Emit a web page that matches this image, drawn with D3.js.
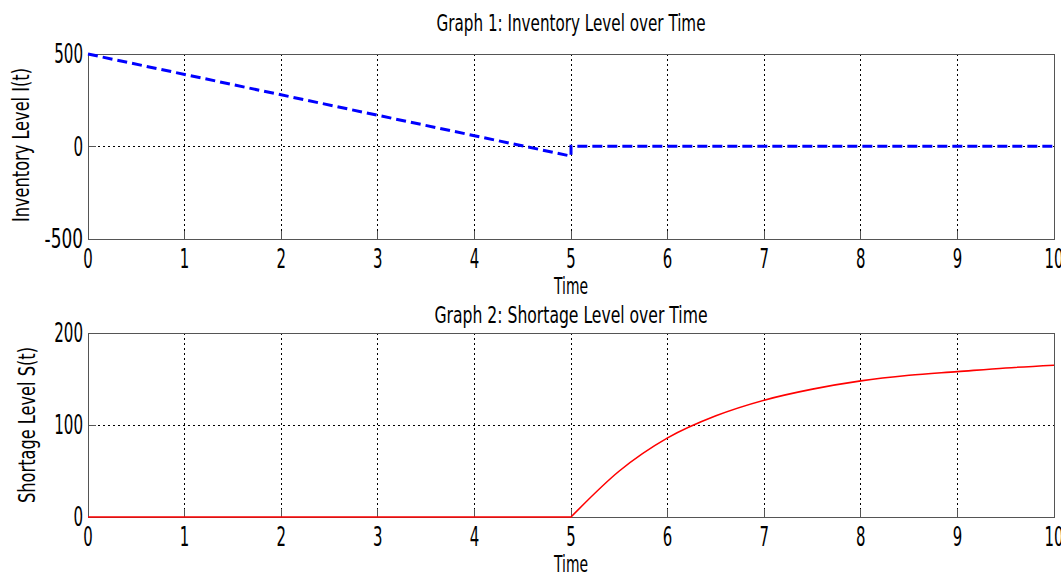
<!DOCTYPE html>
<html>
<head>
<meta charset="utf-8">
<script src="https://cdn.jsdelivr.net/npm/d3@7"></script>
<style>
  body { margin: 0; background: #fff; }
  text { font-family: "Liberation Sans Narrow", "DejaVu Sans Condensed", "Roboto Condensed", sans-serif; fill: #000; }
</style>
</head>
<body>
<div id="chart"></div>
<script>
// data
var timeTicks = [0, 1, 2, 3, 4, 5, 6, 7, 8, 9, 10];

var invTime  = [0, 5, 5, 10];
var invLevel = [500, -52, 2, 2];
var invTicks = [-500, 0, 500];

// flat until t = 5, then the rise
var shortTime  = [0, 5, 5.5, 6, 6.5, 7, 7.5, 8, 8.5, 9, 9.5, 10];
var shortLevel = [0, 0, 50, 86, 110, 127, 139, 148, 154, 158, 162, 165];
var shortTicks = [0, 100, 200];

var width = 1061, height = 573;

var svg = d3.select('#chart').append('svg')
    .attr('width', width)
    .attr('height', height);

var x = d3.scaleLinear().domain([0, 10]).range([88, 1054]);

// squeeze text so it looks like the narrow font of the original
function narrow(sel, perChar) {
    sel.attr('lengthAdjust', 'spacingAndGlyphs')
       .attr('textLength', function(d) { return String(d).length * perChar; });
}

function panel(opts) {
    var y = d3.scaleLinear().domain(opts.domain).range([opts.bottom, opts.top]);
    var g = svg.append('g');

    // grid
    g.selectAll('.vgrid').data(timeTicks.slice(1, -1)).enter().append('line')
        .attr('x1', x).attr('x2', x)
        .attr('y1', opts.top).attr('y2', opts.bottom)
        .attr('stroke', '#000').attr('stroke-width', 1)
        .attr('stroke-dasharray', '2,3')
        .attr('shape-rendering', 'crispEdges');
    g.selectAll('.hgrid').data(opts.ticks.slice(1, -1)).enter().append('line')
        .attr('x1', x(0)).attr('x2', x(10))
        .attr('y1', y).attr('y2', y)
        .attr('stroke', '#000').attr('stroke-width', 1)
        .attr('stroke-dasharray', '2,3')
        .attr('shape-rendering', 'crispEdges');

    // frame
    g.append('rect')
        .attr('x', x(0)).attr('y', opts.top)
        .attr('width', x(10) - x(0)).attr('height', opts.bottom - opts.top)
        .attr('fill', 'none').attr('stroke', '#555').attr('stroke-width', 1)
        .attr('shape-rendering', 'crispEdges');

    // small inward ticks
    g.selectAll('.xt').data(timeTicks).enter().append('line')
        .attr('x1', x).attr('x2', x)
        .attr('y1', opts.bottom).attr('y2', opts.bottom - 8)
        .attr('stroke', '#555').attr('shape-rendering', 'crispEdges');
    g.selectAll('.yt').data(opts.ticks).enter().append('line')
        .attr('x1', x(0)).attr('x2', x(0) + 8)
        .attr('y1', y).attr('y2', y)
        .attr('stroke', '#555').attr('shape-rendering', 'crispEdges');

    // tick labels
    g.selectAll('.xl').data(timeTicks).enter().append('text')
        .attr('x', x).attr('y', opts.bottom + 29)
        .attr('text-anchor', 'middle')
        .attr('font-size', 26)
        .text(function(d) { return d; })
        .call(narrow, 9.5);
    g.selectAll('.yl').data(opts.ticks).enter().append('text')
        .attr('x', x(0) - 5).attr('y', function(d) { return y(d) + 9; })
        .attr('text-anchor', 'end')
        .attr('font-size', 26)
        .text(function(d) { return d; })
        .call(narrow, 9.6);

    // axis titles
    g.append('text')
        .attr('x', x(5)).attr('y', opts.bottom + 55)
        .attr('text-anchor', 'middle').attr('font-size', 23)
        .attr('textLength', 34).attr('lengthAdjust', 'spacingAndGlyphs')
        .text('Time');
    g.append('text')
        .attr('transform', 'translate(' + opts.ylabelX + ',' + opts.ylabelY + ') rotate(-90)')
        .attr('text-anchor', 'middle').attr('font-size', 23)
        .attr('textLength', opts.ylabelLen).attr('lengthAdjust', 'spacingAndGlyphs')
        .text(opts.ylabel);
    g.append('text')
        .attr('x', x(5)).attr('y', opts.titleY)
        .attr('text-anchor', 'middle').attr('font-size', 23)
        .attr('textLength', opts.titleLen).attr('lengthAdjust', 'spacingAndGlyphs')
        .text(opts.title);

    return { g: g, y: y };
}

var p1 = panel({
    top: 54, bottom: 239, domain: [-500, 500], ticks: invTicks,
    title: 'Graph 1: Inventory Level over Time', titleLen: 269, titleY: 31,
    ylabel: 'Inventory Level I(t)', ylabelLen: 154, ylabelX: 29, ylabelY: 145
});

var p2 = panel({
    top: 333, bottom: 517, domain: [0, 200], ticks: shortTicks,
    title: 'Graph 2: Shortage Level over Time', titleLen: 273, titleY: 323,
    ylabel: 'Shortage Level S(t)', ylabelLen: 156, ylabelX: 35, ylabelY: 425
});

var invLine = d3.line()
    .x(function(d, i) { return x(invTime[i]); })
    .y(function(d) { return p1.y(d); });

p1.g.append('path')
    .attr('d', invLine(invLevel))
    .attr('fill', 'none')
    .attr('stroke', '#0000ff')
    .attr('stroke-width', 3)
    .attr('stroke-dasharray', '10,5');

// linear for the flat part, smooth for the rise after t = 5
var shortPts = shortTime.map(function(t, i) { return [t, shortLevel[i]]; });
var flatPts = shortPts.filter(function(p) { return p[0] <= 5; });
var risePts = shortPts.filter(function(p) { return p[0] >= 5; });

var lineLin = d3.line()
    .x(function(p) { return x(p[0]); })
    .y(function(p) { return p2.y(p[1]); });
var lineSmooth = d3.line()
    .x(function(p) { return x(p[0]); })
    .y(function(p) { return p2.y(p[1]); })
    .curve(d3.curveMonotoneX);

p2.g.append('path')
    .attr('d', lineLin(flatPts) + lineSmooth(risePts).replace(/^M/, 'L'))
    .attr('fill', 'none')
    .attr('stroke', '#ff0000')
    .attr('stroke-width', 1.6);
</script>
</body>
</html>
